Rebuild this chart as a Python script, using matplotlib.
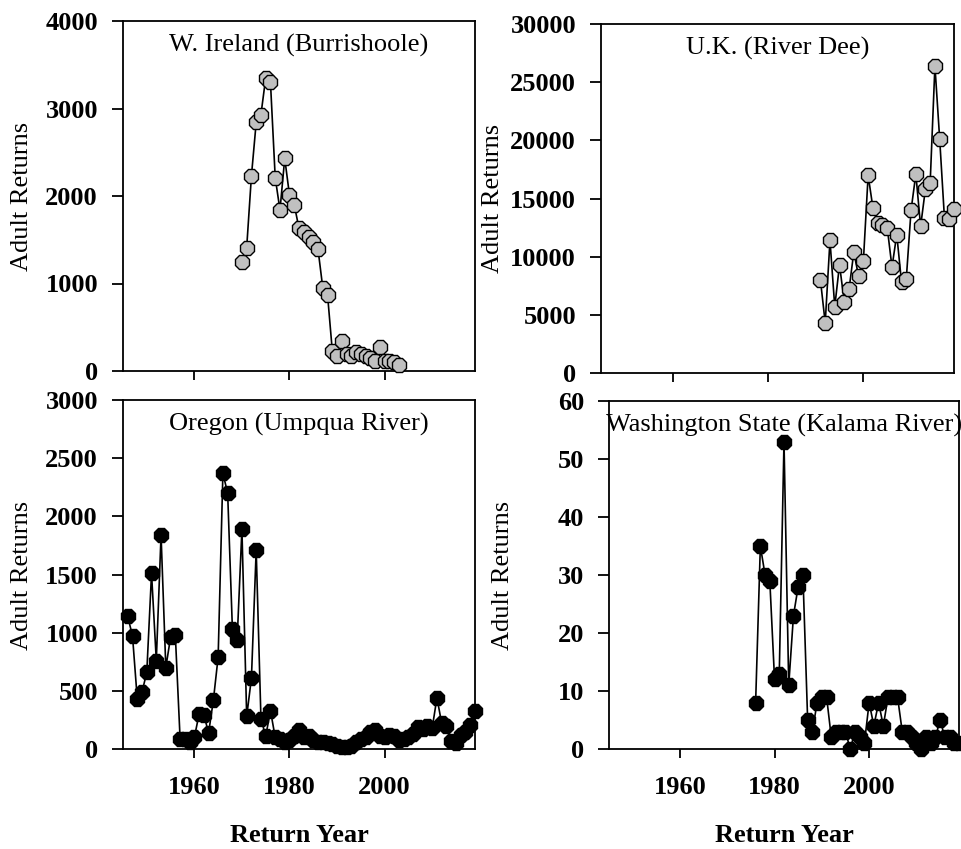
import numpy as np
import matplotlib
matplotlib.use("Agg")
import matplotlib.pyplot as plt

plt.rcParams['font.family'] = ['Liberation Serif', 'DejaVu Serif']

# Burrishoole, W. Ireland
burr_years = list(range(1970, 2004))
burr_returns = [1250, 1410, 2230, 2840, 2930, 3350, 3300, 2210, 1840, 2430,
                2010, 1900, 1630, 1590, 1530, 1470, 1390, 950, 870, 230,
                170, 340, 200, 170, 220, 190, 170, 150, 120, 270,
                110, 120, 100, 70]

# River Dee, U.K.
dee_years = list(range(1991, 2020))
dee_returns = [8000, 4300, 11400, 5700, 9300, 6100, 7200, 10400, 8300, 9600,
               17000, 14200, 12900, 12700, 12500, 9100, 11900, 7800, 8100, 14000,
               17100, 12600, 15800, 16300, 26400, 20100, 13300, 13200, 14100]

# Umpqua River, Oregon
ump_years = list(range(1946, 2020))
ump_returns = [1140, 970, 430, 490, 660, 1510, 760, 1840, 700, 960,
               980, 90, 90, 60, 100, 300, 290, 140, 420, 790,
               2370, 2200, 1030, 940, 1890, 280, 610, 1710, 260, 110,
               330, 100, 90, 60, 75, 110, 160, 100, 110, 75,
               60, 60, 55, 45, 30, 20, 15, 30, 60, 85,
               100, 150, 160, 110, 100, 120, 110, 80, 90, 100,
               130, 190, 170, 200, 180, 440, 220, 200, 70, 50,
               120, 150, 210, 330]

# Kalama River, Washington State
kal_years = list(range(1976, 2020))
kal_returns = [8, 35, 30, 29, 12, 13, 53, 11, 23, 28,
               30, 5, 3, 8, 9, 9, 2, 3, 3, 3,
               0, 3, 2, 1, 8, 4, 8, 4, 9, 9,
               9, 3, 3, 2, 1, 0, 2, 1, 2, 5,
               2, 2, 1, 1]

W, H = 961, 849
fig = plt.figure(figsize=(W / 100, H / 100), dpi=100)


def box(l, t, r, b):
    return [l / W, 1 - b / H, (r - l) / W, (b - t) / H]


panels = [
    dict(pos=box(123, 21, 475, 371), x=burr_years, y=burr_returns, face='#c0c0c0',
         title='W. Ireland (Burrishoole)', yt=np.arange(0, 4001, 1000), xlab=False),
    dict(pos=box(601, 24, 954, 373), x=dee_years, y=dee_returns, face='#c0c0c0',
         title='U.K. (River Dee)', yt=np.arange(0, 30001, 5000), xlab=False),
    dict(pos=box(123, 400, 475, 749), x=ump_years, y=ump_returns, face='black',
         title='Oregon (Umpqua River)', yt=np.arange(0, 3001, 500), xlab=True),
    dict(pos=box(609, 401, 959, 749), x=kal_years, y=kal_returns, face='black',
         title='Washington State (Kalama River)', yt=np.arange(0, 61, 10), xlab=True),
]

for p in panels:
    ax = fig.add_axes(p['pos'])
    ax.plot(p['x'], p['y'], color='black', lw=1.2, marker='8', ms=11,
            mfc=p['face'], mec='black', mew=1.0, clip_on=False, zorder=3)
    ax.set_xlim(1945, 2019)
    ax.set_ylim(p['yt'][0], p['yt'][-1])
    ax.set_yticks(p['yt'])
    ax.set_yticklabels([str(v) for v in p['yt']], fontweight='bold', fontsize=19)
    ax.set_xticks([1960, 1980, 2000])
    if p['xlab']:
        ax.set_xticklabels(['1960', '1980', '2000'], fontweight='bold', fontsize=19)
    else:
        ax.set_xticklabels([])
    ax.tick_params(axis='y', direction='out', length=8, width=1.3, pad=10)
    ax.tick_params(axis='x', direction='out', length=6.5, width=1.3, pad=13)
    for s in ax.spines.values():
        s.set_linewidth(1.3)
    ax.text(0.5, 0.93, p['title'], transform=ax.transAxes, ha='center',
            va='center', fontsize=19)

# axis titles
for x, y in [(22, 196), (493, 198), (22, 575), (503, 575)]:
    fig.text(x / W, 1 - y / H, 'Adult Returns', rotation=90, ha='center',
             va='center', fontsize=19)
for x in [299, 784]:
    fig.text(x / W, 1 - 835 / H, 'Return Year', ha='center', va='center',
             fontsize=19, fontweight='bold')

fig.savefig('out.png', dpi=100)
